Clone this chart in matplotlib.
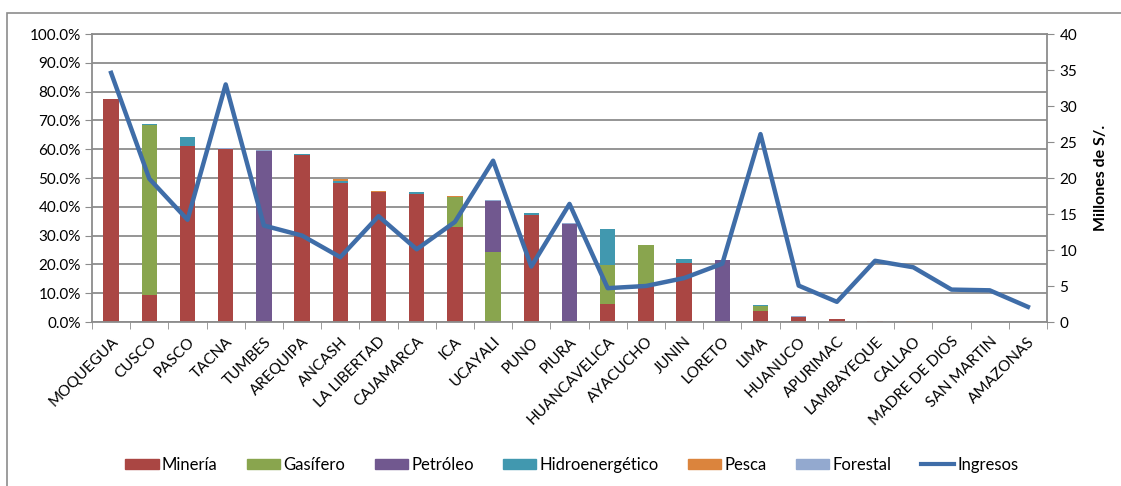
import matplotlib
matplotlib.use("Agg")
import matplotlib.pyplot as plt
import numpy as np
from matplotlib.patches import Rectangle
from matplotlib.lines import Line2D

plt.rcParams['font.family'] = ['Lato', 'DejaVu Sans']

# Regions, sorted as in the source chart
regiones = ["MOQUEGUA", "CUSCO", "PASCO", "TACNA", "TUMBES", "AREQUIPA", "ANCASH",
            "LA LIBERTAD", "CAJAMARCA", "ICA", "UCAYALI", "PUNO", "PIURA",
            "HUANCAVELICA", "AYACUCHO", "JUNIN", "LORETO", "LIMA", "HUANUCO",
            "APURIMAC", "LAMBAYEQUE", "CALLAO", "MADRE DE DIOS", "SAN MARTIN",
            "AMAZONAS"]

# Share per sector (%)
mineria = [77.6, 9.4, 61.1, 60.1, 0, 58.0, 48.4, 45.1, 44.3, 32.9, 0, 37.1, 0,
           6.4, 13.3, 20.4, 0, 3.7, 1.85, 1.2, 0.5, 0, 0, 0, 0]
gasifero = [0, 59.1, 0, 0, 0, 0, 0, 0, 0, 10.4, 24.3, 0, 0,
            13.5, 13.4, 0, 0, 1.7, 0, 0, 0, 0, 0, 0, 0]
petroleo = [0, 0, 0, 0, 59.3, 0, 0, 0, 0, 0, 17.8, 0, 34.1,
            0, 0, 0, 21.6, 0, 0, 0, 0, 0, 0, 0, 0]
hidro = [0, 0.3, 3.0, 0, 0, 0.5, 0.7, 0, 0.7, 0, 0, 0.8, 0,
         12.4, 0, 1.4, 0, 0.6, 0, 0, 0, 0, 0, 0, 0]
pesca = [0, 0, 0, 0, 0, 0, 0.4, 0.3, 0, 0.4, 0, 0, 0,
         0, 0, 0, 0, 0, 0, 0, 0, 0.3, 0, 0, 0]
forestal = [0, 0, 0, 0.4, 0.4, 0, 0, 0, 0, 0, 0.4, 0, 0.3,
            0, 0, 0, 0, 0, 0.35, 0, 0, 0, 0.2, 0.1, 0.05]

# Income (millions of S/.)
ingresos = [34.6, 19.9, 14.2, 33.0, 13.4, 12.0, 9.0, 14.7, 10.1, 13.9, 22.4, 7.7,
            16.4, 4.7, 5.0, 6.1, 8.1, 26.1, 5.05, 2.8, 8.5, 7.6, 4.5, 4.4, 2.1]

series = [("Minería", mineria, "#AA4643"),
          ("Gasífero", gasifero, "#89A54E"),
          ("Petróleo", petroleo, "#71588F"),
          ("Hidroenergético", hidro, "#4198AF"),
          ("Pesca", pesca, "#DB843D"),
          ("Forestal", forestal, "#93A9CF")]

grid_col = "#8C8C8C"
line_col = "#3F6DA8"

fig = plt.figure(figsize=(11.21, 4.86), dpi=100)
# outer chart-area border
fig.patches.append(Rectangle((7 / 1121, -0.1), 1.2, 1 - 13 / 486 + 0.1,
                             transform=fig.transFigure, fill=False,
                             edgecolor="#8C8C8C", linewidth=1.2))

ax = fig.add_axes([92 / 1121, 1 - 322 / 486, (1047 - 92) / 1121, (322 - 34) / 486])
x = np.arange(len(regiones))
bottom = np.zeros(len(regiones))
for name, vals, col in series:
    v = np.array(vals)
    ax.bar(x, v, width=0.4, bottom=bottom, color=col, label=name, zorder=2)
    bottom += v

ax.set_xlim(-0.5, len(regiones) - 0.5)
ax.set_ylim(0, 100)
ax.set_yticks(np.arange(0, 101, 10))
ax.set_yticklabels([f"{t:.1f}%" for t in np.arange(0, 101, 10)], fontsize=11)
ax.yaxis.grid(True, color=grid_col, linewidth=1.3, zorder=0)
ax.set_axisbelow(True)
ax.tick_params(axis="y", length=5, color=grid_col, pad=3)

ax.set_xticks(x)
ax.set_xticklabels(regiones, rotation=45, ha="right", rotation_mode="anchor", fontsize=11)
ax.tick_params(axis="x", which="major", length=0, pad=9)
ax.set_xticks(np.arange(-0.5, len(regiones)), minor=True)
ax.tick_params(axis="x", which="minor", length=5, color=grid_col)

for s in ["left", "right", "bottom", "top"]:
    ax.spines[s].set_color(grid_col)
    ax.spines[s].set_linewidth(1.3)

ax2 = ax.twinx()
ax2.plot(x, ingresos, color=line_col, linewidth=3.2, label="Ingresos", zorder=3)
ax2.set_ylim(0, 40)
ax2.set_yticks(np.arange(0, 41, 5))
ax2.tick_params(axis="y", length=5, color=grid_col, labelsize=11, pad=4)
ax2.set_ylabel("Millones de S/.", fontsize=11.5, fontweight="bold", labelpad=12)
for s in ax2.spines.values():
    s.set_visible(False)

handles = [Rectangle((0, 0), 1, 1, color=c) for _, _, c in series]
handles.append(Line2D([0], [0], color=line_col, linewidth=3))
labels = [n for n, _, _ in series] + ["Ingresos"]
fig.legend(handles, labels, loc="center", bbox_to_anchor=(572 / 1121, 1 - 465 / 486),
           ncol=7, frameon=False, fontsize=12, handlelength=2.0, handleheight=0.6,
           columnspacing=1.75, handletextpad=0.2)

fig.savefig("out.png", dpi=100)
